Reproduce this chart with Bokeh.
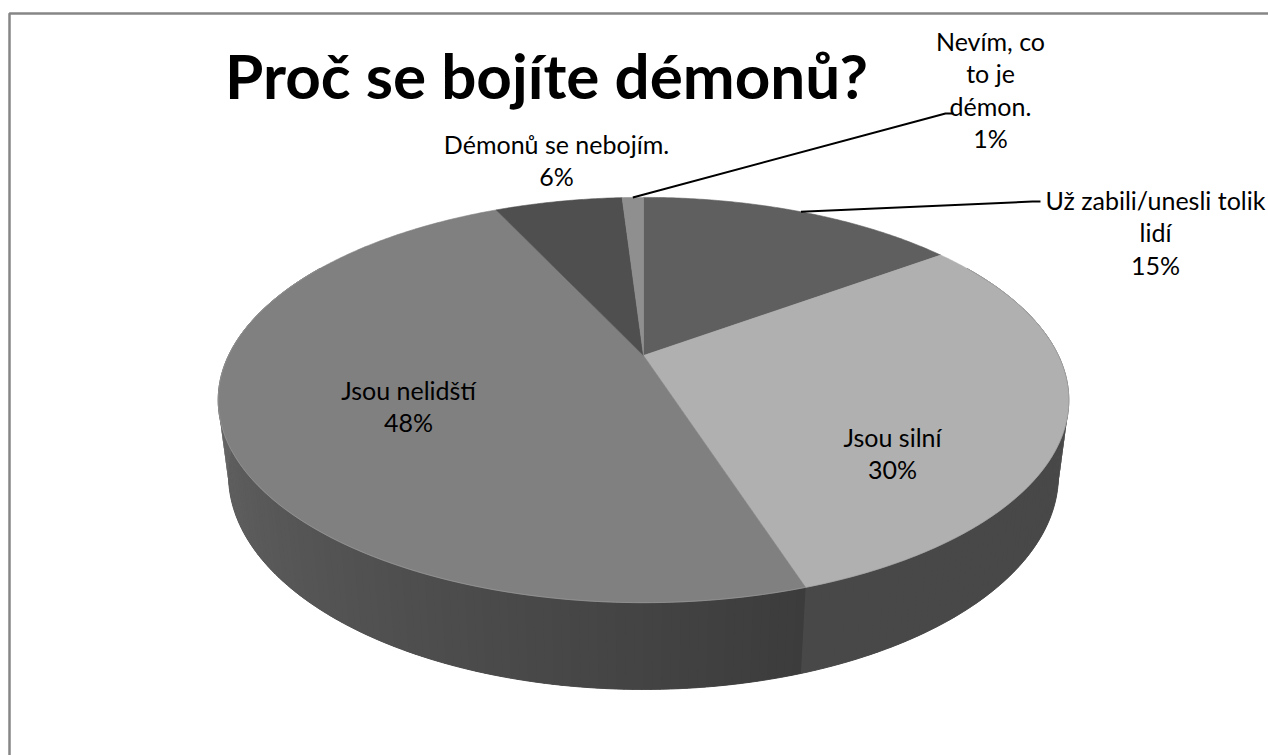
import math
from bokeh.plotting import figure
from bokeh.models import Range1d
from bokeh.core.properties import value
from bokeh.embed import file_html
from bokeh.resources import INLINE

# ---- data ----
title = "Proč se bojíte démonů?"
categories = ["Už zabili/unesli tolik lidí", "Jsou silní", "Jsou nelidští",
              "Démonů se nebojím.", "Nevím, co to je démon."]
shares = [15, 30, 48, 6, 1]
pct_labels = ["15%", "30%", "48%", "6%", "1%"]
label_lines = [["Už zabili/unesli tolik", "lidí"], ["Jsou silní"], ["Jsou nelidští"],
               ["Démonů se nebojím."], ["Nevím, co", "to je", "démon."]]
top_colors = ["#5f5f5f", "#b0b0b0", "#808080", "#4f4f4f", "#8f8f8f"]

W, H = 1268, 755
p = figure(width=W, height=H, x_range=Range1d(0, W), y_range=Range1d(H, 0),
           output_backend="svg", toolbar_location=None, min_border=0)
p.axis.visible = False
p.grid.visible = False
p.outline_line_color = None
p.background_fill_color = "white"
p.border_fill_color = "white"

# ---- perspective projection of a 3D disc ----
CX, CY, F, D = 643.0, 355.0, 1672.0, 4.03
E = math.radians(27.7)
S, C = math.sin(E), math.cos(E)
THICK = 0.206

def proj(theta_deg, r=1.0, z=0.0):
    t = math.radians(theta_deg)
    X, Y = r * math.sin(t), r * math.cos(t)
    depth = D + Y * C - z * S
    v = Y * S + z * C
    return CX + F * X / depth, CY - F * v / depth

total = float(sum(shares))
bounds = [0.0]
for v in shares:
    bounds.append(bounds[-1] + 360.0 * v / total)

def slice_of(theta):
    for i in range(len(shares)):
        if bounds[i] <= theta < bounds[i + 1]:
            return i
    return len(shares) - 1

def hexg(g):
    g = int(max(0, min(255, round(g))))
    return "#%02x%02x%02x" % (g, g, g)

def side_gray(i, theta):
    if i == 2:
        t = (theta - bounds[2]) / 128.0
        return 0x3c + max(0.0, min(1.0, t)) * (0x70 - 0x3c)
    if i == 1:
        return 0x48
    return 0x50

# ---- side wall: underlay + strips ----
ux, uy = [], []
for k in range(0, 241):
    x, y = proj(60 + k)
    ux.append(x); uy.append(y)
for k in range(240, -1, -1):
    x, y = proj(60 + k, z=-THICK)
    ux.append(x); uy.append(y)
p.patch(ux, uy, fill_color="#555555", line_color="#555555", line_width=1)

xs, ys, cols = [], [], []
step = 1.0
th = 60.0
while th < 300.0:
    a, b = th, th + step
    i = slice_of((a + b) / 2)
    p1 = proj(a); p2 = proj(b + 0.3)
    p3 = proj(b + 0.3, z=-THICK); p4 = proj(a, z=-THICK)
    xs.append([p1[0], p2[0], p3[0], p4[0]])
    ys.append([p1[1], p2[1], p3[1], p4[1]])
    cols.append(hexg(side_gray(i, (a + b) / 2)))
    th = b
p.patches(xs, ys, fill_color=cols, line_color=None)

# ---- top face slices ----
txs, tys = [], []
for i in range(len(shares)):
    a0, a1 = bounds[i], bounds[i + 1]
    n = max(4, int((a1 - a0) / 0.5))
    px, py = [CX], [CY]
    for k in range(n + 1):
        x, y = proj(a0 + (a1 - a0) * k / n)
        px.append(x); py.append(y)
    txs.append(px); tys.append(py)
p.patches(txs, tys, fill_color=top_colors, line_color=top_colors, line_width=0.6)

# subtle rim highlight on the front edge
rx, ry = [], []
for k in range(0, 241):
    x, y = proj(60 + k)
    rx.append(x); ry.append(y)
p.line(rx, ry, line_color="#a8a8a8", line_width=1, line_alpha=0.5)

# ---- frame (only top/left visible in window) ----
p.line([9, 9, W + 5], [H + 5, 13, 13], line_color="#868686", line_width=2.5)

# ---- title ----
p.text(x=[546], y=[74], text=[title], text_font=value("Lato"), text_font_style="bold",
       text_font_size="62px", text_align="center", text_baseline="middle", text_color="black")

# ---- data labels ----
lab_pos = [(1155, 199), (892, 436), (408, 389), (556, 143), (990, 40)]
LH = 32.5
lx, ly, lt = [], [], []
for i, (x0, y0) in enumerate(lab_pos):
    lines = label_lines[i] + [pct_labels[i]]
    for j, s in enumerate(lines):
        lx.append(x0); ly.append(y0 + j * LH); lt.append(s)
p.text(x=lx, y=ly, text=lt, text_font=value("Lato"), text_font_size="25px",
       text_align="center", text_baseline="middle", text_color="black")

# ---- leader lines ----
m0 = proj((bounds[0] + bounds[1]) / 2)
p.line([m0[0], 1032, 1040], [m0[1], 201, 201], line_color="black", line_width=2)
m4 = proj((bounds[4] + bounds[5]) / 2)
p.line([m4[0], 945, 953], [m4[1], 113, 113], line_color="black", line_width=2)

open("out.html", "w").write(file_html(p, INLINE))
